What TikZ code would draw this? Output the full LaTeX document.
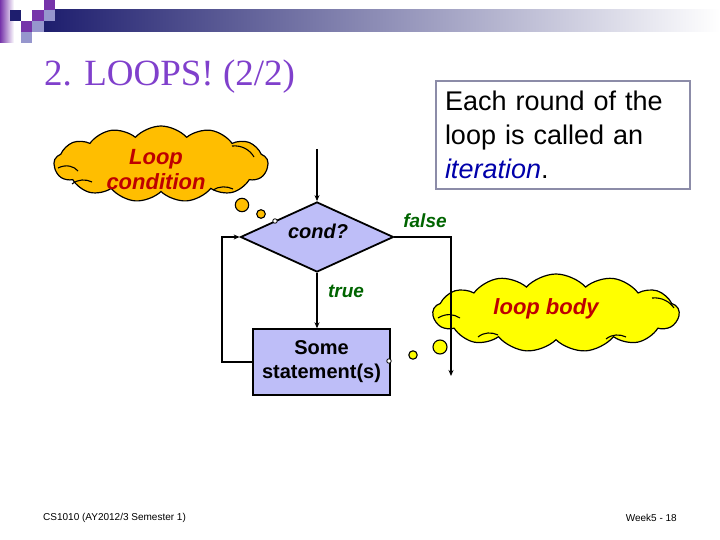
\documentclass[tikz,border=0pt]{standalone}
\usepackage{fontspec}
\setmainfont{Liberation Sans}
\newfontfamily\titlefont{Liberation Serif}
\usetikzlibrary{shapes.geometric,shapes.symbols,arrows.meta}
\definecolor{navyc}{RGB}{30,30,110}
\definecolor{purplec}{RGB}{118,52,170}
\definecolor{lavsq}{RGB}{150,150,205}
\definecolor{titlec}{RGB}{128,64,204}
\definecolor{orangec}{RGB}{255,190,0}
\definecolor{yellowc}{RGB}{255,255,0}
\definecolor{lavfill}{RGB}{190,190,248}
\definecolor{darkred}{RGB}{190,0,0}
\definecolor{greenc}{RGB}{0,100,0}
\definecolor{boxborder}{RGB}{140,140,168}
\definecolor{itblue}{RGB}{0,0,170}
\begin{document}
\begin{tikzpicture}[x=1pt,y=-1pt,
  flow/.style={line width=1.4pt},
  arr/.style={flow,-{Stealth[length=6pt,width=5pt]}},
  cloudnode/.style={cloud, cloud puffs=13, cloud puff arc=95, aspect=2.8, cloud ignores aspect, draw, line width=1.2pt, inner sep=0},
  cloudtext/.style={text=darkred, font=\fontsize{22}{25}\selectfont\bfseries\itshape, align=center},
  bubble/.style={draw, line width=1.1pt},
  marker/.style={draw, fill=white, line width=0.8pt, circle, inner sep=0, minimum size=4.5pt},
  lbl/.style={text=greenc, font=\fontsize{19}{22}\selectfont\bfseries\itshape},
  inner/.style={line width=1.1pt}]
\useasboundingbox (0,0) rectangle (720,540);
% header decoration
\shade[left color=purplec, right color=white] (0,0) rectangle (14,43);
\shade[left color=navyc, right color=white] (44,10) rectangle (720,32);
\fill[navyc] (10,10) rectangle (21,21);
\fill[purplec] (44,0) rectangle (55,10);
\fill[purplec] (32,10) rectangle (44,21);
\fill[lavsq] (44,10) rectangle (55,21);
\fill[purplec] (21,21) rectangle (32,32);
\fill[lavsq] (32,21) rectangle (44,32);
\fill[lavsq] (21,32) rectangle (32,43);
% title
\node[anchor=base west, inner sep=0, text=titlec, font=\titlefont\fontsize{37}{40}\selectfont] (title) at (44,86) {2. LOOPS! (2/2)};
% text box
\node[draw=boxborder, line width=2.5pt, minimum width=254pt, minimum height=108pt, text width=236pt, inner xsep=9pt, align=left, font=\fontsize{27}{34}\selectfont] (itbox) at (563,135) {Each round of the\\loop is called an\\\textcolor{itblue}{\itshape iteration}.};
% clouds
\node[cloudnode, fill=orangec, minimum width=214pt, minimum height=76pt] (lc) at (161,164) {};
\draw[inner] (58,168) .. controls (66,164) and (74,166) .. (78,171);
\draw[inner] (72,184) .. controls (78,179) and (86,179) .. (92,182);
\draw[inner] (232,146) .. controls (242,145) and (250,150) .. (254,157);
\draw[inner] (213,190) .. controls (219,186) and (227,186) .. (233,189);
\node[cloudtext] (lctext) at (156,170) {Loop\\condition};
\node[cloudnode, fill=yellowc, minimum width=246pt, minimum height=78pt] (lb) at (556,313) {};
\draw[inner] (438,318) .. controls (446,313) and (454,314) .. (460,318);
\draw[inner] (478,337) .. controls (484,332) and (492,332) .. (498,335);
\draw[inner] (652,298) .. controls (662,297) and (670,302) .. (674,308);
\draw[inner] (606,339) .. controls (612,334) and (620,334) .. (626,337);
\node[cloudtext] (lbtext) at (546,309) {loop body};
% flowchart
\node[diamond, draw, line width=1.8pt, fill=lavfill, minimum width=153pt, minimum height=70pt, aspect=2.2, inner sep=0] (dia) at (317,237) {};
\node[font=\fontsize{20}{24}\selectfont\bfseries\itshape, inner sep=0] (condtxt) at (318,231) {cond?};
\node[draw, line width=1.4pt, fill=lavfill, minimum width=137pt, minimum height=66pt, align=center, font=\fontsize{20}{24}\selectfont\bfseries, inner sep=0] (box) at (321.5,362) {Some\\statement(s)};
\coordinate (top) at (317,149);
\coordinate (fr) at (451,237);
\coordinate (fend) at (451,376);
\coordinate (lbl) at (222,362);
\draw[arr] (top) -- (dia.north);
\draw[arr] (dia.south) -- (dia.south |- box.north);
\draw[arr] (dia.east) -- (fr) -- (fend);
\draw[arr] (box.west) -- (lbl) |- (dia.west);
\node[lbl] (falselbl) at (425,221) {false};
\node[lbl] (truelbl) at (346,291) {true};
% thought bubbles
\draw[bubble, fill=orangec] (242,205) circle (6.7);
\draw[bubble, fill=orangec] (261,214) circle (4.3);
\node[marker] (m1) at (275,221) {};
\draw[bubble, fill=yellowc] (440,347) circle (7);
\draw[bubble, fill=yellowc] (413,355) circle (4.2);
\node[marker] (m2) at (389,361) {};
% footer
\node[anchor=west, inner sep=0, font=\fontsize{10}{12}\selectfont] (foot1) at (43,518) {CS1010 (AY2012/3 Semester 1)};
\node[anchor=east, inner sep=0, font=\fontsize{10}{12}\selectfont] (foot2) at (677,518) {Week5 - 18};
\end{tikzpicture}
\end{document}
